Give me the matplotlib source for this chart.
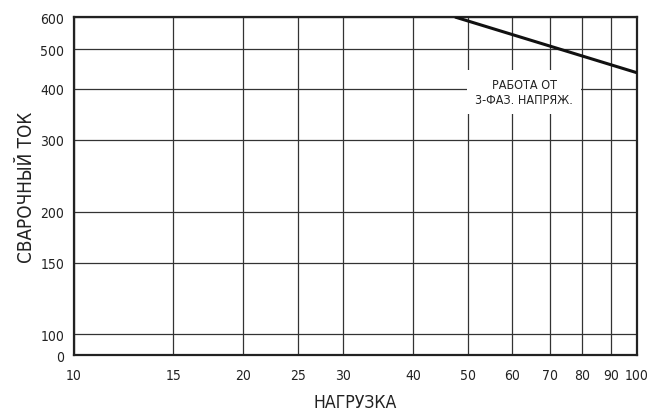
import numpy as np
import matplotlib
matplotlib.use("Agg")
import matplotlib.pyplot as plt
from matplotlib.ticker import FixedLocator, FixedFormatter, NullLocator

plt.rcParams['font.family'] = ['DejaVu Sans']
plt.rcParams['font.stretch'] = 'condensed'

# load (duty cycle, %) and welding current
load_pct = [47.5, 100]
current_a = [600, 438]

x_ticks = [10, 15, 20, 25, 30, 40, 50, 60, 70, 80, 90, 100]
y_ticks = [89, 100, 150, 200, 300, 400, 500, 600]
y_tick_labels = ['0', '100', '150', '200', '300', '400', '500', '600']

fig = plt.figure(figsize=(6.49, 4.14), dpi=100)
ax = fig.add_axes([0.114, 0.140, 0.8675, 0.8165])

ax.set_xscale('log')
ax.set_yscale('log')
ax.set_xlim(10, 100)
ax.set_ylim(89, 600)

ax.xaxis.set_major_locator(FixedLocator(x_ticks))
ax.xaxis.set_major_formatter(FixedFormatter([str(v) for v in x_ticks]))
ax.xaxis.set_minor_locator(NullLocator())
ax.yaxis.set_major_locator(FixedLocator(y_ticks))
ax.yaxis.set_major_formatter(FixedFormatter(y_tick_labels))
ax.yaxis.set_minor_locator(NullLocator())
ax.tick_params(length=0, labelsize=10, colors='#222222')
ax.tick_params(axis='x', pad=9)
ax.tick_params(axis='y', pad=7)

ax.grid(True, color='#333333', linewidth=0.9)
ax.set_axisbelow(True)
for s in ax.spines.values():
    s.set_linewidth(1.6)
    s.set_color('#222222')

ax.plot(load_pct, current_a, color='#111111', linewidth=2.2, solid_capstyle='butt', zorder=3)

ax.text(63, 393, 'РАБОТА ОТ\n3-ФАЗ. НАПРЯЖ.', ha='center', va='center', fontsize=9,
        color='#222222', linespacing=1.2,
        bbox=dict(facecolor='white', edgecolor='none', pad=6), zorder=4)

ax.set_ylabel('СВАРОЧНЫЙ ТОК', fontsize=13.5, color='#222222', labelpad=3)
ax.set_xlabel('НАГРУЗКА', fontsize=12.7, color='#222222', labelpad=8)

fig.savefig('out.png', dpi=100)
